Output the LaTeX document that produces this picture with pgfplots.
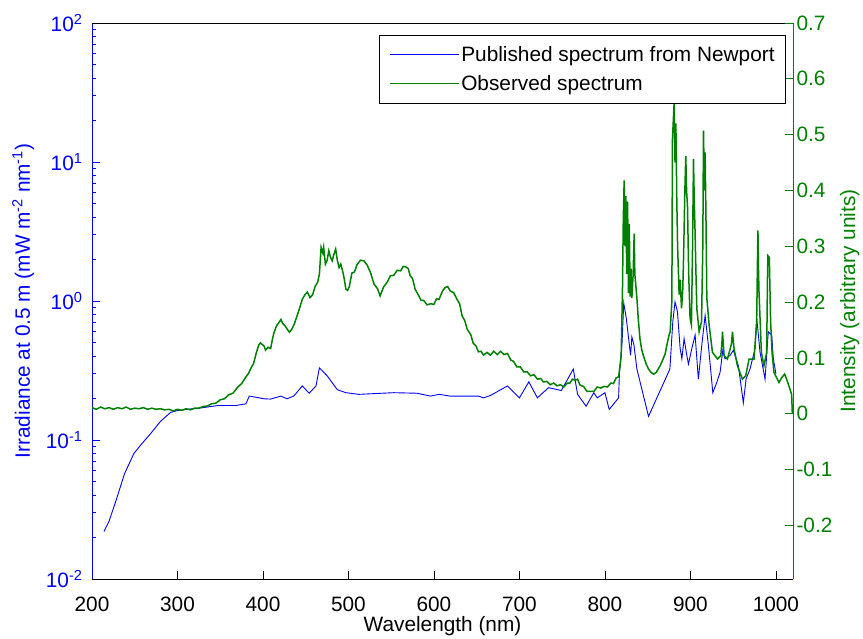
\documentclass[border=0pt]{standalone}
\usepackage{fontspec}
\setmainfont{Liberation Sans}
\usepackage{pgfplots}
\pgfplotsset{compat=1.18}
\definecolor{mblue}{rgb}{0,0,1}
\definecolor{mgreen}{rgb}{0,0.5,0}
\begin{document}
\begin{tikzpicture}[font=\fontsize{20.8bp}{25bp}\selectfont]
\begin{axis}[
  at={(0,0)}, anchor=south west,
  scale only axis, width=701bp, height=556bp,
  xmin=200, xmax=1020,
  ymode=log, log basis y=10, ymin=1e-2, ymax=1e2,
  axis x line*=bottom, axis y line*=left,
  x axis line style={black, line width=0.8bp},
  y axis line style={mblue, line width=0.8bp},
  tick align=inside,
  major tick length=8bp, minor tick length=4.5bp,
  xtick={200,300,400,500,600,700,800,900,1000},
  xticklabels={200,300,400,500,600,700,800,900,1000},
  xtick style={black, line width=0.8bp},
  xticklabel style={black, yshift=-14bp},
  ytick={0.01,0.1,1,10,100},
  yticklabels={10\textsuperscript{-2},10\textsuperscript{-1},10\textsuperscript{0},10\textsuperscript{1},10\textsuperscript{2}},
  minor ytick={0.02,0.03,0.04,0.05,0.06,0.07,0.08,0.09,0.2,0.3,0.4,0.5,0.6,0.7,0.8,0.9,2,3,4,5,6,7,8,9,20,30,40,50,60,70,80,90},
  ytick style={mblue, line width=0.8bp},
  yticklabel style={mblue, xshift=-6bp},
  xlabel={Wavelength (nm)},
  xlabel style={at={(axis description cs:0.5,0)}, anchor=north, yshift=-34bp, black},
  ylabel={Irradiance at 0.5 m (mW m\textsuperscript{-2} nm\textsuperscript{-1})},
  ylabel style={at={(axis description cs:-0.098,0.5)}, anchor=center, mblue},
  clip=true,
]
\addplot[draw=mblue, line width=0.9bp] table {
214 0.0220
220 0.0261
228 0.0365
238 0.0571
249 0.080
257 0.092
269 0.112
280 0.136
292 0.158
300 0.163
310 0.166
327 0.170
347 0.177
368 0.177
380 0.182
384 0.207
394 0.202
401 0.198
409 0.197
421 0.207
428 0.198
436 0.207
446 0.245
454 0.217
462 0.245
466 0.330
475 0.290
487 0.230
497 0.219
512 0.213
553 0.219
580 0.217
596 0.207
606 0.213
619 0.207
652 0.207
658 0.201
666 0.209
686 0.245
700 0.201
711 0.262
721 0.201
734 0.238
749 0.227
763 0.324
768 0.213
778 0.175
787 0.219
791 0.201
800 0.219
805 0.166
816 0.201
817 0.307
820 0.493
822 0.966
825 0.751
830 0.406
831.5 0.552
834 0.481
837.4 0.324
851 0.148
876 0.324
879.4 0.711
882 0.984
884.8 0.841
888 0.454
890 0.384
892.6 0.537
895.8 0.406
897.7 0.352
901.6 0.454
905.5 0.569
909.3 0.274
913.3 0.481
917.2 0.787
921 0.481
926.2 0.219
930.8 0.259
934.7 0.307
937.9 0.442
940.5 0.384
946.4 0.406
950.2 0.442
956.1 0.343
961.9 0.185
965.1 0.274
969.7 0.324
975.6 0.454
977.6 0.751
981.4 0.43
987.3 0.274
991.1 0.601
995.1 0.569
997 0.384
1000 0.30
};
\draw[black, line width=0.8bp] (rel axis cs:0,1) -- (rel axis cs:1,1);
\end{axis}
\begin{axis}[
  at={(0,0)}, anchor=south west,
  scale only axis, width=701bp, height=556bp,
  xmin=200, xmax=1020, ymin=-0.296, ymax=0.7,
  axis x line=none, axis y line*=right,
  y axis line style={mgreen, line width=0.8bp},
  tick align=inside, major tick length=8bp,
  ytick={-0.2,-0.1,0,0.1,0.2,0.3,0.4,0.5,0.6,0.7},
  yticklabels={-0.2,-0.1,0,0.1,0.2,0.3,0.4,0.5,0.6,0.7},
  ytick style={mgreen, line width=0.8bp},
  yticklabel style={mgreen},
  ylabel={Intensity (arbitrary units)},
  ylabel style={at={(axis description cs:1.081,0.5)}, anchor=center, mgreen},
  legend cell align=left,
  legend style={at={(axis description cs:0.990,0.979)}, anchor=north east,
    draw=black, line width=0.8bp, fill=white, inner xsep=9bp, inner ysep=5bp,
    nodes={inner xsep=2bp, inner ysep=6.2bp}},
  legend image code/.code={\draw[#1] (0bp,0bp) -- (64bp,0bp); \path (0bp,0bp) -- (69bp,0bp);},
]
\addlegendimage{draw=mblue, line width=0.9bp}
\addlegendentry{Published spectrum from Newport}
\addplot[draw=mgreen, line width=1.5bp] table {
200 0.011
205 0.008
210 0.012
215 0.009
220 0.011
225 0.008
230 0.011
235 0.009
240 0.012
245 0.008
250 0.010
255 0.009
260 0.011
265 0.008
270 0.010
275 0.008
280 0.009
285 0.007
290 0.008
295 0.005
300 0.008
305 0.006
310 0.009
315 0.007
320 0.010
325 0.010
330 0.013
335 0.014
340 0.018
345 0.019
350 0.025
355 0.027
360 0.034
365 0.037
370 0.047
375 0.054
380 0.066
383 0.072
386 0.082
389 0.090
392 0.108
395 0.123
397 0.127
399 0.124
401 0.122
403 0.114
406 0.119
409 0.117
411 0.133
413 0.146
416 0.158
419 0.164
421 0.169
423 0.162
426 0.157
429 0.150
431 0.146
434 0.152
437 0.162
440 0.176
443 0.190
446 0.205
449 0.213
452 0.218
455 0.208
458 0.213
461 0.228
464 0.236
466 0.250
468 0.298
470 0.288
471 0.298
473 0.268
475 0.275
477 0.292
479 0.280
481 0.274
483 0.286
485 0.295
487 0.275
489 0.262
491 0.268
493 0.257
495 0.242
497 0.223
499 0.221
501 0.228
504 0.252
507 0.254
510 0.267
514 0.275
518 0.274
522 0.266
526 0.252
530 0.232
534 0.224
537 0.211
541 0.227
545 0.235
549 0.247
553 0.248
557 0.257
561 0.256
564 0.264
567 0.263
570 0.260
572 0.248
575 0.242
578 0.223
582 0.212
585 0.203
588 0.203
592 0.195
596 0.197
600 0.196
603 0.206
606 0.205
610 0.220
613 0.226
616 0.228
619 0.220
623 0.217
627 0.205
630 0.197
633 0.175
636 0.167
639 0.151
643 0.142
646 0.126
649 0.122
652 0.111
655 0.112
658 0.105
662 0.110
666 0.105
670 0.112
674 0.106
678 0.112
682 0.106
686 0.108
690 0.096
693 0.094
697 0.084
701 0.084
705 0.075
709 0.075
713 0.068
717 0.070
721 0.062
725 0.063
728 0.057
732 0.058
736 0.052
740 0.055
744 0.050
748 0.052
752 0.048
756 0.055
759 0.055
762 0.062
765 0.060
768 0.062
771 0.051
775 0.049
779 0.040
783 0.040
787 0.040
791 0.048
795 0.046
799 0.049
803 0.048
807 0.055
810 0.054
813 0.064
816 0.066
818 0.090
819 0.104
820.5 0.2195
821.5 0.35
822.5 0.418
823.5 0.30
824.5 0.39
825.5 0.25
826.5 0.38
827.5 0.216
828.5 0.34
829.5 0.21
830.5 0.26
831.5 0.207
833 0.25
834.2 0.3225
835 0.25
837.4 0.207
839 0.17
841 0.134
843 0.115
845 0.104
848 0.090
851 0.080
854 0.074
857 0.071
860 0.074
864.6 0.086
868 0.098
870.4 0.107
872.4 0.1225
875 0.141
876.3 0.147
878.3 0.2013
879 0.492
881 0.559
882 0.45
883 0.52
884 0.389
885 0.30
886.8 0.2135
888 0.24
889.6 0.189
891 0.22
891.9 0.274
893.5 0.40
894.6 0.462
895.5 0.40
896.6 0.371
898 0.25
899.6 0.171
901.2 0.159
902.5 0.30
903.6 0.456
904.5 0.38
905.5 0.3225
906.5 0.25
907.5 0.189
910.2 0.147
913 0.165
914.5 0.30
915.3 0.507
916.3 0.40
917.2 0.468
918.2 0.35
919.2 0.2073
921.9 0.159
925.8 0.110
931.7 0.098
935.5 0.104
937 0.130
937.5 0.147
938.5 0.125
939.4 0.104
943.3 0.098
948 0.125
949.2 0.147
950.5 0.125
951.1 0.116
955 0.086
960.8 0.062
964.7 0.068
968.6 0.098
974.4 0.098
977.5 0.165
978.5 0.28
979 0.3285
979.6 0.26
980.2 0.2195
983 0.110
986 0.086
989.2 0.110
990.2 0.25
990.7 0.283
992.3 0.280
993.8 0.165
995.5 0.11
997.7 0.074
1003.6 0.056
1007 0.065
1010.2 0.071
1013 0.060
1015.2 0.050
1018.4 0.0345
1019.2 0.001
};
\addlegendentry{Observed spectrum}
\end{axis}
\pgfresetboundingbox
\path (-92bp,-60bp) rectangle (771bp,579bp);
\end{tikzpicture}
\end{document}
